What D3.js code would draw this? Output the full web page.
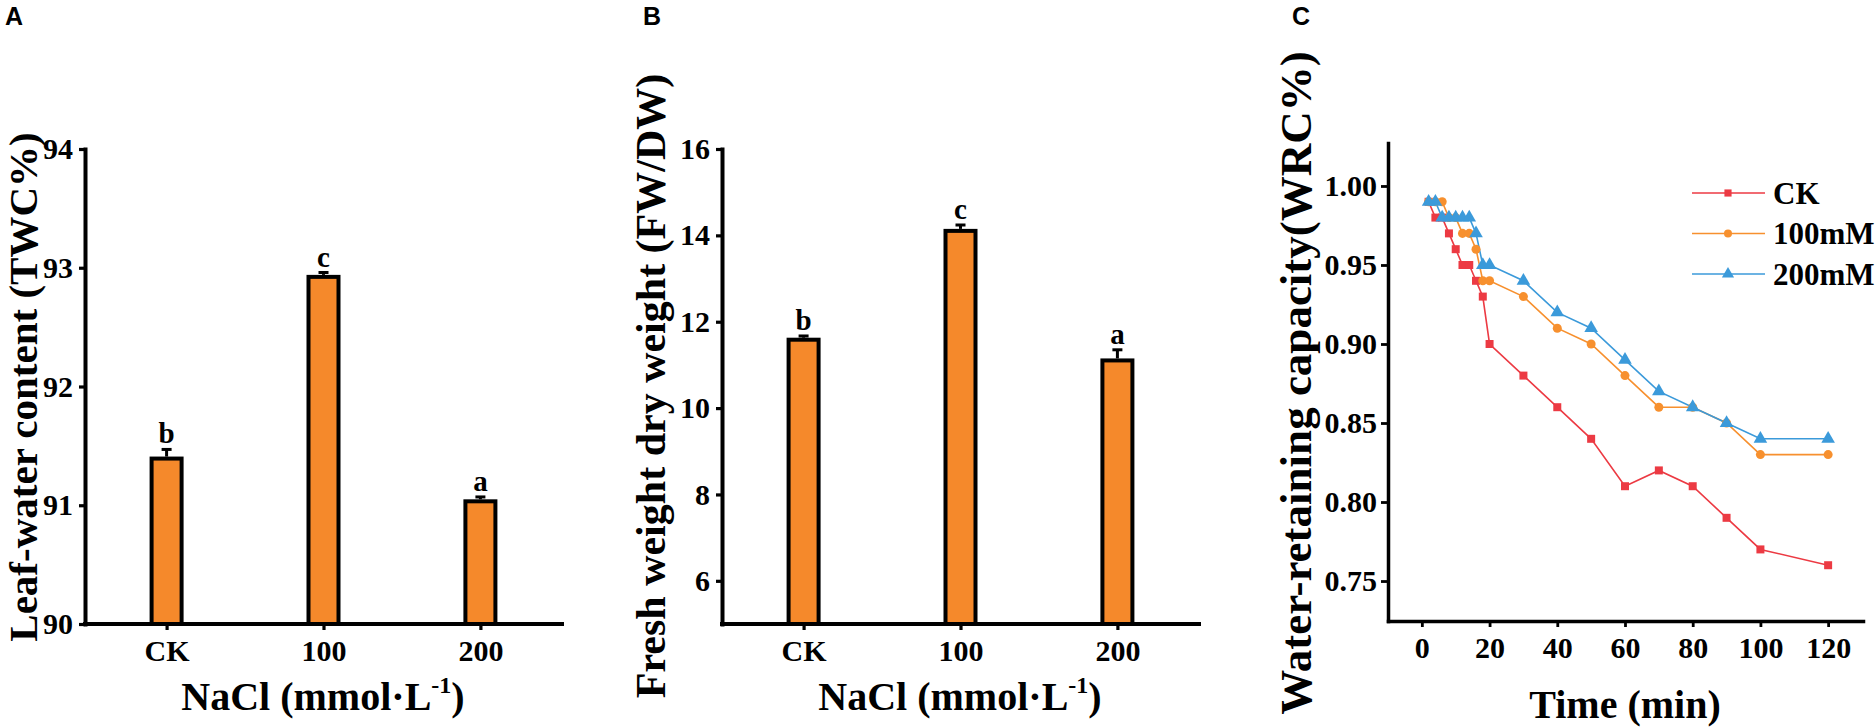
<!DOCTYPE html>
<html><head><meta charset="utf-8">
<script src="https://cdn.jsdelivr.net/npm/d3@7"></script>
<style>body{margin:0;background:#fff} svg{display:block}</style>
</head><body><svg id="c" width="1876" height="727"></svg>
<script>
// ---------- data ----------
const categories = ["CK", "100", "200"];
const twcValues = [91.41, 92.94, 91.05];
const twcErrors = [0.06, 0.02, 0.02];
const twcLetters = ["b", "c", "a"];
const twcTicks = [90, 91, 92, 93, 94];

const fwdwValues = [11.63, 14.15, 11.15];
const fwdwErrors = [0.04, 0.09, 0.2];
const fwdwLetters = ["b", "c", "a"];
const fwdwTicks = [6, 8, 10, 12, 14, 16];

const timePoints = [2, 4, 6, 8, 10, 12, 14, 16, 18, 20, 30, 40, 50, 60, 70, 80, 90, 100, 120];
const wrcCK  = [0.99, 0.98, 0.98, 0.97, 0.96, 0.95, 0.95, 0.94, 0.93, 0.90, 0.88, 0.86, 0.84, 0.81, 0.82, 0.81, 0.79, 0.77, 0.76];
const wrc100 = [0.99, 0.99, 0.99, 0.98, 0.98, 0.97, 0.97, 0.96, 0.94, 0.94, 0.93, 0.91, 0.90, 0.88, 0.86, 0.86, 0.85, 0.83, 0.83];
const wrc200 = [0.99, 0.99, 0.98, 0.98, 0.98, 0.98, 0.98, 0.97, 0.95, 0.95, 0.94, 0.92, 0.91, 0.89, 0.87, 0.86, 0.85, 0.84, 0.84];
const seriesNames = ["CK", "100mM", "200mM"];
const timeTicks = [0, 20, 40, 60, 80, 100, 120];
const wrcTicks = [0.75, 0.80, 0.85, 0.90, 0.95, 1.00];

// ---------- styles ----------
const SERIF = "'Liberation Serif','Times New Roman',Times,serif";
const SANS = "'Liberation Sans',Arial,Helvetica,sans-serif";
const BAR_FILL = "#F5892B";
const seriesColors = ["#EC3A43", "#F7902E", "#3B9ADA"];
const seriesSymbols = [d3.symbolSquare, d3.symbolCircle, d3.symbolTriangle];
const symbolSizes = [64, 64, 80];

const svg = d3.select("#c");

function styleAxis(g, w) {
  g.select(".domain").attr("stroke", "#000").attr("stroke-width", w).attr("stroke-linecap", "square");
  g.selectAll(".tick line").attr("stroke", "#000").attr("stroke-width", w * 0.8);
  g.selectAll(".tick text").attr("fill", "#000").attr("font-family", SERIF)
    .attr("font-weight", "bold").attr("font-size", 30);
}

function panelLetter(x, y, t) {
  svg.append("text").attr("x", x).attr("y", y).text(t)
    .attr("font-family", SANS).attr("font-weight", "bold").attr("font-size", 25).attr("fill", "#000");
}

function naclLabel(cx, y) {
  const t = svg.append("text").attr("x", cx).attr("y", y).attr("text-anchor", "middle")
    .attr("font-family", SERIF).attr("font-weight", "bold").attr("font-size", 40).attr("fill", "#000");
  t.append("tspan").text("NaCl (mmol\u00B7L");
  t.append("tspan").text("-1").attr("font-size", 24).attr("dy", -17);
  t.append("tspan").text(")").attr("font-size", 40).attr("dy", 17);
}

function yTitle(x, cy, size, txt) {
  svg.append("text").attr("transform", `translate(${x},${cy}) rotate(-90)`)
    .attr("text-anchor", "middle").attr("font-family", SERIF).attr("font-weight", "bold")
    .attr("font-size", size).attr("fill", "#000").text(txt);
}

function barPanel(opt) {
  const x = d3.scalePoint().domain(categories).range([opt.x0, opt.x1]).padding(0.52);
  const y = d3.scaleLinear().domain(opt.domain).range([opt.yBottom, opt.yTop]);
  const g = svg.append("g");
  const bw = 30;
  g.selectAll("rect").data(categories).join("rect")
    .attr("x", d => x(d) - bw / 2)
    .attr("y", (d, i) => y(opt.values[i]) + 2)
    .attr("width", bw)
    .attr("height", (d, i) => opt.yBottom - y(opt.values[i]) - 2)
    .attr("fill", BAR_FILL).attr("stroke", "#000").attr("stroke-width", 4);
  g.selectAll("line.err").data(categories).join("line").attr("class", "err")
    .attr("x1", d => x(d)).attr("x2", d => x(d))
    .attr("y1", (d, i) => y(opt.values[i]))
    .attr("y2", (d, i) => y(opt.values[i] + opt.errors[i]))
    .attr("stroke", "#000").attr("stroke-width", 3);
  g.selectAll("line.cap").data(categories).join("line").attr("class", "cap")
    .attr("x1", d => x(d) - 5).attr("x2", d => x(d) + 5)
    .attr("y1", (d, i) => y(opt.values[i] + opt.errors[i]))
    .attr("y2", (d, i) => y(opt.values[i] + opt.errors[i]))
    .attr("stroke", "#000").attr("stroke-width", 3);
  g.selectAll("text.sig").data(categories).join("text").attr("class", "sig")
    .attr("x", d => x(d)).attr("y", (d, i) => y(opt.values[i] + opt.errors[i]) - 6)
    .attr("text-anchor", "middle").attr("font-family", SERIF).attr("font-weight", "bold")
    .attr("font-size", 29).attr("fill", "#000").text((d, i) => opt.letters[i]);
  const ya = svg.append("g").attr("transform", `translate(${opt.x0},0)`)
    .call(d3.axisLeft(y).tickValues(opt.ticks).tickFormat(d3.format("d"))
      .tickSize(6).tickSizeOuter(0).tickPadding(6));
  styleAxis(ya, 4);
  const xa = svg.append("g").attr("transform", `translate(0,${opt.yBottom})`)
    .call(d3.axisBottom(x).tickSize(6).tickSizeOuter(0).tickPadding(10));
  xa.select(".domain").attr("d", `M${opt.x0},0H${opt.x1}`);
  styleAxis(xa, 4);
}

// ---------- Panel A ----------
panelLetter(5, 25, "A");
barPanel({ x0: 85, x1: 562, yTop: 149, yBottom: 624, domain: [90, 94],
  values: twcValues, errors: twcErrors, letters: twcLetters, ticks: twcTicks });
yTitle(37, 387, 41, "Leaf-water content (TWC%)");
naclLabel(323, 710);

// ---------- Panel B ----------
panelLetter(643, 25, "B");
barPanel({ x0: 722, x1: 1199, yTop: 149, yBottom: 624, domain: [5, 16],
  values: fwdwValues, errors: fwdwErrors, letters: fwdwLetters, ticks: fwdwTicks });
yTitle(665, 386, 42, "Fresh weight dry weight (FW/DW)");
naclLabel(960, 710);

// ---------- Panel C ----------
panelLetter(1292, 25, "C");
const xC = d3.scaleLinear().domain([-10, 130.3]).range([1388, 1863]);
const yC = d3.scaleLinear().domain([0.7247, 1.0272]).range([621, 143]);
const seriesData = [wrcCK, wrc100, wrc200];

const yaC = svg.append("g").attr("transform", "translate(1388,0)")
  .call(d3.axisLeft(yC).tickValues(wrcTicks).tickFormat(d3.format(".2f")).tickSize(7).tickSizeOuter(0).tickPadding(4));
styleAxis(yaC, 3.5);
const xaC = svg.append("g").attr("transform", "translate(0,621)")
  .call(d3.axisBottom(xC).tickValues(timeTicks).tickSize(6).tickSizeOuter(0).tickPadding(10));
styleAxis(xaC, 3.5);

const line = d3.line().x((d, i) => xC(timePoints[i])).y(d => yC(d));
seriesData.forEach((vals, s) => {
  svg.append("path").datum(vals).attr("d", line).attr("fill", "none")
    .attr("stroke", seriesColors[s]).attr("stroke-width", 1.6);
});
seriesData.forEach((vals, s) => {
  svg.append("g").selectAll("path").data(vals).join("path")
    .attr("transform", (d, i) => `translate(${xC(timePoints[i])},${yC(d)})`)
    .attr("d", d3.symbol().type(seriesSymbols[s]).size(symbolSizes[s]))
    .attr("fill", seriesColors[s]);
});

// legend
seriesNames.forEach((name, s) => {
  const ly = 193 + s * 40.5;
  const lg = svg.append("g");
  lg.append("line").attr("x1", 1692).attr("x2", 1765).attr("y1", ly).attr("y2", ly)
    .attr("stroke", seriesColors[s]).attr("stroke-width", 1.6);
  lg.append("path").attr("transform", `translate(1728,${ly})`)
    .attr("d", d3.symbol().type(seriesSymbols[s]).size(symbolSizes[s] * 0.8))
    .attr("fill", seriesColors[s]);
  lg.append("text").attr("x", 1773).attr("y", ly).attr("dy", "0.35em")
    .attr("font-family", SERIF).attr("font-weight", "bold").attr("font-size", 31)
    .attr("fill", "#000").text(name);
});

yTitle(1311, 383, 45, "Water-retaining capacity(WRC%)");
svg.append("text").attr("x", 1625).attr("y", 718).attr("text-anchor", "middle")
  .attr("font-family", SERIF).attr("font-weight", "bold").attr("font-size", 40)
  .attr("fill", "#000").text("Time (min)");
</script>
</body></html>
